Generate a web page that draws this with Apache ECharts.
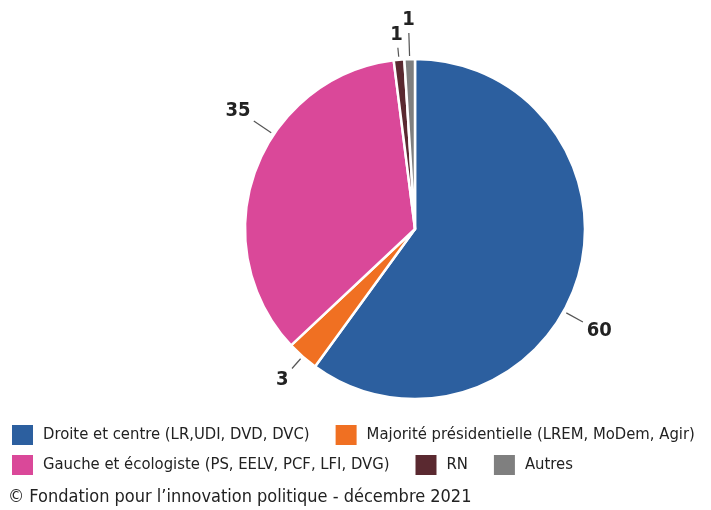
<!DOCTYPE html>
<html><head><meta charset="utf-8">
<script src="https://cdn.jsdelivr.net/npm/echarts@6/dist/echarts.min.js"></script>
<style>html,body{margin:0;padding:0;background:#fff}#c{width:711px;height:510px}</style>
</head><body><div id="c"></div>
<script>
const categories = ['Droite et centre (LR,UDI, DVD, DVC)', 'Majorité présidentielle (LREM, MoDem, Agir)', 'Gauche et écologiste (PS, EELV, PCF, LFI, DVG)', 'RN', 'Autres'];
const values = [60, 3, 35, 1, 1];
const colors = ['#2c5f9f', '#f07022', '#da4899', '#5a2930', '#7f7f7f'];
const lineLengths = [22, 16, 24, 12, 26];
const labelAngleShift = [11, 0, 14, 0, 0];
const legendRow1 = [categories[0], categories[1]];
const legendRow2 = [categories[2], categories[3], categories[4]];
const footer = '© Fondation pour l’innovation politique - décembre 2021';

const FONT = '"DejaVu Sans Condensed", "Liberation Sans Narrow", Roboto, sans-serif';
const CX = 415, CY = 229, R = 170;

const chart = echarts.init(document.getElementById('c'));
const data = categories.map((n, i) => ({
  name: n, value: values[i],
  itemStyle: { color: colors[i] },
  labelLine: { length: lineLengths[i] }
}));

const legendText = { fontFamily: FONT, fontSize: 16.5, color: '#222', padding: [0, 0, 0, 4] };
chart.setOption({
  animation: false,
  title: { text: footer, left: 8, top: 488, padding: 0, textStyle: { fontFamily: FONT, fontSize: 18, fontWeight: 'normal', color: '#222' } },
  legend: [
    { data: legendRow1, left: 10, top: 423, width: 700, padding: 0, icon: 'rect', itemWidth: 23, itemHeight: 22, itemGap: 24, textStyle: legendText },
    { data: legendRow2, left: 10, top: 453, width: 700, padding: 0, icon: 'rect', itemWidth: 23, itemHeight: 22, itemGap: 24, textStyle: legendText }
  ],
  series: [{
    type: 'pie',
    center: [CX, CY], radius: R,
    startAngle: 90, clockwise: true,
    avoidLabelOverlap: false,
    itemStyle: { borderColor: '#fff', borderWidth: 2.5 },
    label: { show: true, position: 'outside', formatter: '{c}', fontFamily: FONT, fontSize: 20, fontWeight: 'bold', color: '#222' },
    labelLine: { show: true, length2: 0, lineStyle: { color: '#555', width: 1.2 } },
    labelLayout: function (p) {
      const i = p.dataIndex;
      const pts = p.labelLinePoints;
      let a = Math.atan2(pts[0][1] - CY, pts[0][0] - CX);
      a += labelAngleShift[i] * Math.PI / 180;
      const ux = Math.cos(a), uy = Math.sin(a);
      const r0 = R + 3, r1 = R + lineLengths[i];
      const w = p.labelRect.width, h = p.labelRect.height;
      const off = Math.abs(ux) * w / 2 + Math.abs(uy) * h / 2 + 3;
      return {
        x: CX + ux * (r1 + off), y: CY + uy * (r1 + off),
        align: 'center', verticalAlign: 'middle',
        labelLinePoints: [[CX + ux * r0, CY + uy * r0], [CX + ux * r1, CY + uy * r1], [CX + ux * r1, CY + uy * r1]]
      };
    },
    data: data
  }]
});
</script></body></html>
